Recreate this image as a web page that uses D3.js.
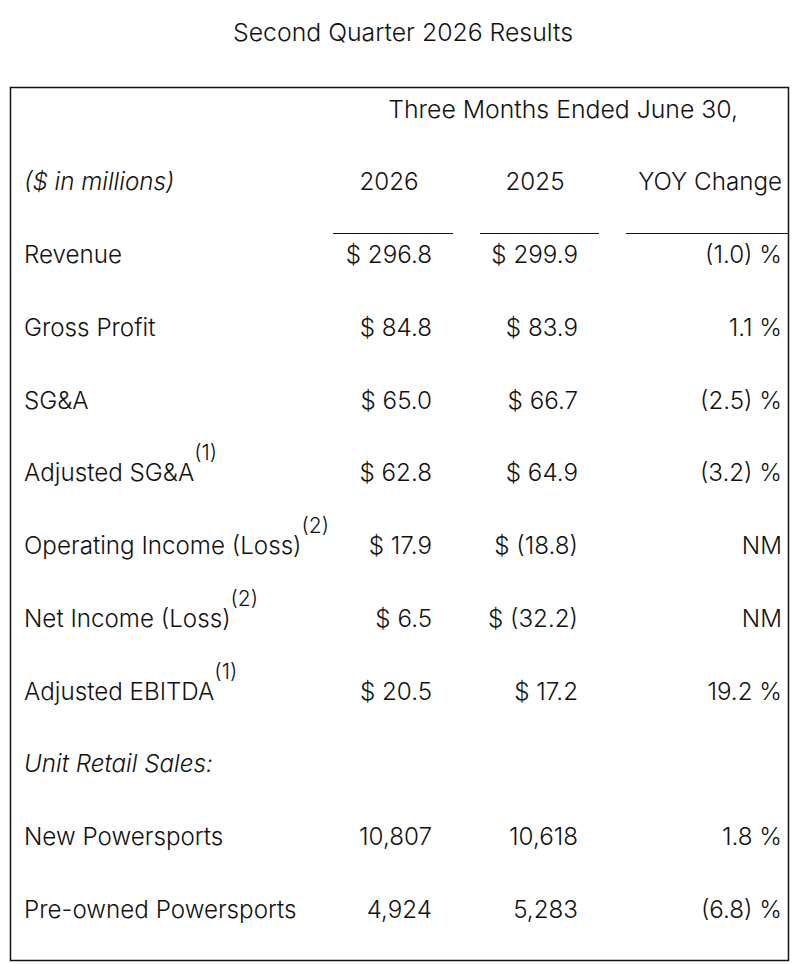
<!DOCTYPE html>
<html>
<head>
<meta charset="utf-8">
<script src="https://cdn.jsdelivr.net/npm/d3@7"></script>
<style>
  body { margin: 0; background: #fff; }
  text { font-family: Inter, "Noto Sans", sans-serif; fill: #111; font-weight: 350; }
</style>
</head>
<body>
<div id="viz-container"></div>
<script>
// table content
const title = "Second Quarter 2026 Results";
const periodLabel = "Three Months Ended June 30,";
const columnHeads = ["2026", "2025", "YOY Change"];
const rowLabels = ["Revenue", "Gross Profit", "SG&A", "Adjusted SG&A", "Operating Income (Loss)",
                   "Net Income (Loss)", "Adjusted EBITDA", "Unit Retail Sales:", "New Powersports",
                   "Pre-owned Powersports"];
const footnotes = ["", "", "", "(1)", "(2)", "(2)", "(1)", "", "", ""];
const values2026 = ["$ 296.8", "$ 84.8", "$ 65.0", "$ 62.8", "$ 17.9", "$ 6.5", "$ 20.5", "", "10,807", "4,924"];
const values2025 = ["$ 299.9", "$ 83.9", "$ 66.7", "$ 64.9", "$ (18.8)", "$ (32.2)", "$ 17.2", "", "10,618", "5,283"];
const yoyChange = ["(1.0) %", "1.1 %", "(2.5) %", "(3.2) %", "NM", "NM", "19.2 %", "", "1.8 %", "(6.8) %"];

const width = 794, height = 964;
const fs = 24.2;

const svg = d3.select('#viz-container')
  .append('svg')
    .attr("width", width)
    .attr("height", height);

// rows and columns
const y = d3.scalePoint()
  .domain(d3.range(rowLabels.length))
  .range([263, 918]);

const colRight = d3.scaleOrdinal()
  .domain(columnHeads)
  .range([432, 578, 782]);
const colCenter = d3.scaleOrdinal()
  .domain(columnHeads)
  .range([389, 535, 710]);
const ruleSpan = d3.scaleOrdinal()
  .domain(columnHeads)
  .range([[333, 453], [480, 599], [626, 788]]);

// frame
svg.append('rect')
  .attr('x', 10.5).attr('y', 87.5)
  .attr('width', 778).attr('height', 873)
  .attr('fill', 'none')
  .attr('stroke', '#111')
  .attr('stroke-width', 1.5);

svg.append('text')
  .attr('x', 403).attr('y', 41)
  .attr('text-anchor', 'middle')
  .attr('font-size', 24.8)
  .text(title);

svg.append('text')
  .attr('x', 738).attr('y', 118)
  .attr('text-anchor', 'end')
  .attr('font-size', 24.8)
  .text(periodLabel);

svg.append('text')
  .attr('x', 24).attr('y', 190)
  .attr('font-size', fs)
  .attr('font-style', 'italic')
  .text("($ in millions)");

svg.selectAll('.head').data(columnHeads).enter()
  .append('text')
    .attr('class', 'head')
    .attr('x', d => d === "YOY Change" ? colRight(d) : colCenter(d))
    .attr('y', 190)
    .attr('text-anchor', d => d === "YOY Change" ? 'end' : 'middle')
    .attr('font-size', fs)
    .text(d => d);

svg.selectAll('.rule').data(columnHeads).enter()
  .append('line')
    .attr('x1', d => ruleSpan(d)[0])
    .attr('x2', d => ruleSpan(d)[1])
    .attr('y1', 233.5).attr('y2', 233.5)
    .attr('stroke', '#111')
    .attr('stroke-width', 1.2);

// row labels with footnote marks
const labels = svg.selectAll('.label').data(rowLabels).enter()
  .append('text')
    .attr('class', 'label')
    .attr('x', 24)
    .attr('y', (d, i) => y(i))
    .attr('font-size', fs)
    .attr('font-style', (d, i) => values2026[i] === "" ? 'italic' : 'normal');

labels.append('tspan').text(d => d);
labels.append('tspan')
  .attr('dy', -21)
  .attr('font-size', 21)
  .text((d, i) => footnotes[i]);

const cols = [values2026, values2025, yoyChange];
cols.forEach((vals, c) => {
  svg.selectAll('.val' + c).data(vals).enter()
    .append('text')
      .attr('class', 'val' + c)
      .attr('x', colRight(columnHeads[c]))
      .attr('y', (d, i) => y(i))
      .attr('text-anchor', 'end')
      .attr('font-size', fs)
      .text(d => d);
});
</script>
</body>
</html>
